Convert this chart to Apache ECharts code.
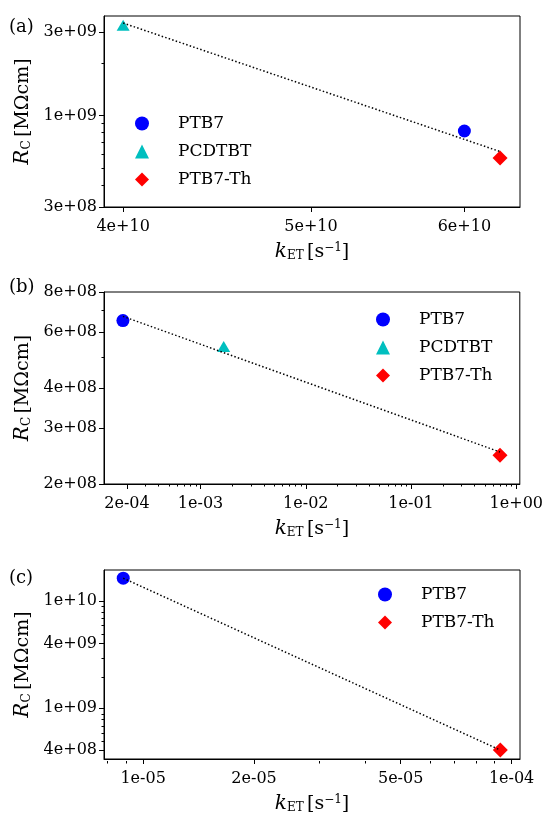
<!DOCTYPE html>
<html>
<head>
<meta charset="utf-8">
<script src="https://cdn.jsdelivr.net/npm/echarts@6/dist/echarts.min.js"></script>
<style>
html, body { margin: 0; padding: 0; background: #fff; }
#main { width: 546px; height: 815px; }
</style>
</head>
<body>
<div id="main"></div>
<script>
var names = ['PTB7', 'PCDTBT', 'PTB7-Th'];

// (a)
var aK = [6.0e10, 4.0e10, 6.26e10];
var aR = [8.17e8, 3.29e9, 5.73e8];
var aFitK = [4.0e10, 6.26e10];
var aFitR = [3.39e9, 6.23e8];
var aXTicks = [4e10, 5e10, 6e10];
var aXLabels = ['4e+10', '5e+10', '6e+10'];
var aYTicks = [3e8, 1e9, 3e9];
var aYLabels = ['3e+08', '1e+09', '3e+09'];
var aXMinor = [];
var aYMinor = [4e8, 5e8, 6e8, 7e8, 8e8, 9e8, 2e9];
var aXRange = [3.91e10, 6.41e10];
var aYRange = [3e8, 3.72e9];

// (b)
var bK = [1.83e-4, 1.66e-3, 0.70];
var bR = [6.51e8, 5.40e8, 2.46e8];
var bFitK = [1.83e-4, 0.70];
var bFitR = [6.71e8, 2.52e8];
var bXTicks = [2e-4, 1e-3, 1e-2, 1e-1, 1];
var bXLabels = ['2e-04', '1e-03', '1e-02', '1e-01', '1e+00'];
var bYTicks = [2e8, 3e8, 4e8, 6e8, 8e8];
var bYLabels = ['2e+08', '3e+08', '4e+08', '6e+08', '8e+08'];
var bXMinor = [3e-4, 4e-4, 5e-4, 6e-4, 7e-4, 8e-4, 9e-4,
  2e-3, 3e-3, 4e-3, 5e-3, 6e-3, 7e-3, 8e-3, 9e-3,
  2e-2, 3e-2, 4e-2, 5e-2, 6e-2, 7e-2, 8e-2, 9e-2,
  2e-1, 3e-1, 4e-1, 5e-1, 6e-1, 7e-1, 8e-1, 9e-1];
var bYMinor = [5e8, 7e8];
var bXRange = [1.21e-4, 1.08];
var bYRange = [2e8, 8e8];

// (c)
var cNames = ['PTB7', 'PTB7-Th'];
var cK = [8.83e-6, 9.32e-5];
var cR = [1.65e10, 4.0e8];
var cFitK = [8.83e-6, 9.32e-5];
var cFitR = [1.65e10, 4.0e8];
var cXTicks = [1e-5, 2e-5, 5e-5, 1e-4];
var cXLabels = ['1e-05', '2e-05', '5e-05', '1e-04'];
var cYTicks = [4e8, 1e9, 4e9, 1e10];
var cYLabels = ['4e+08', '1e+09', '4e+09', '1e+10'];
var cXMinor = [8e-6, 9e-6, 3e-5, 4e-5, 6e-5, 7e-5, 8e-5, 9e-5];
var cYMinor = [5e8, 6e8, 7e8, 8e8, 9e8, 2e9, 3e9, 5e9, 6e9, 7e9, 8e9, 9e9];
var cXRange = [7.83e-6, 1.054e-4];
var cYRange = [3.3e8, 1.97e10];

var colors = {'PTB7': '#0000ff', 'PCDTBT': '#00bfbf', 'PTB7-Th': '#ff0000'};
var symbols = {'PTB7': 'circle', 'PCDTBT': 'triangle', 'PTB7-Th': 'diamond'};
var sizes = {'PTB7': 13, 'PCDTBT': [13, 11], 'PTB7-Th': 15};

var FONT = 'DejaVu Serif';
var lg = Math.log10;

var option = {
  animation: false,
  backgroundColor: '#fff',
  grid: [], xAxis: [], yAxis: [], series: [], legend: [],
  graphic: []
};

var xName = '{i|k}{s|ET} {n|[s}{p|\u22121}{n|]}';
var yName = '{i|R}{s|C} {n|[M\u03a9cm]}';
var nameRich = {
  i: {fontFamily: FONT, fontStyle: 'italic', fontSize: 20, color: '#000'},
  s: {fontFamily: FONT, fontSize: 12, color: '#000', verticalAlign: 'bottom', lineHeight: 13},
  p: {fontFamily: FONT, fontSize: 12, color: '#000', verticalAlign: 'top', lineHeight: 13},
  n: {fontFamily: FONT, fontSize: 19, color: '#000'}
};

var panels = [];

function addPanel(idx, box, ks, rs, nm, fitK, fitR, xt, xl, yt, yl, xm, ym, xr, yr, leg, tag) {
  option.grid[idx] = {left: box[0], top: box[1], width: box[2], height: box[3],
    show: true, borderColor: '#000', borderWidth: 1, backgroundColor: 'transparent'};
  // twin grid on the same box, only for minor ticks
  option.grid[idx + 3] = {left: box[0], top: box[1], width: box[2], height: box[3], show: false};
  var xtl = xt.map(lg), ytl = yt.map(lg);
  var mainX = {
    type: 'value', gridIndex: idx, position: 'bottom', min: lg(xr[0]), max: lg(xr[1]),
    axisLine: {show: true, onZero: false, lineStyle: {color: '#000', width: 1}},
    axisTick: {show: true, length: 5, customValues: xtl, lineStyle: {color: '#000', width: 1}},
    axisLabel: {customValues: xtl, fontFamily: FONT, fontSize: 16, color: '#000', margin: 12,
      formatter: function (v) {
        for (var j = 0; j < xtl.length; j++) if (Math.abs(xtl[j] - v) < 1e-6) return xl[j];
        return '';
      }},
    splitLine: {show: false},
    name: xName, nameLocation: 'middle', nameGap: 35, nameTextStyle: {rich: nameRich}
  };
  var minorX = {
    type: 'value', gridIndex: idx + 3, position: 'bottom', min: lg(xr[0]), max: lg(xr[1]),
    axisLine: {show: false, onZero: false},
    axisTick: {show: xm.length > 0, length: 2.5, customValues: xm.map(lg), lineStyle: {color: '#000', width: 1}},
    axisLabel: {show: false}, splitLine: {show: false}
  };
  var mainY = {
    type: 'value', gridIndex: idx, position: 'left', min: lg(yr[0]), max: lg(yr[1]),
    axisLine: {show: true, onZero: false, lineStyle: {color: '#000', width: 1}},
    axisTick: {show: true, length: 5, customValues: ytl, lineStyle: {color: '#000', width: 1}},
    axisLabel: {customValues: ytl, fontFamily: FONT, fontSize: 16, color: '#000', margin: 7,
      formatter: function (v) {
        for (var j = 0; j < ytl.length; j++) if (Math.abs(ytl[j] - v) < 1e-6) return yl[j];
        return '';
      }},
    splitLine: {show: false},
    name: yName, nameLocation: 'middle', nameGap: 56, nameTextStyle: {rich: nameRich}
  };
  var minorY = {
    type: 'value', gridIndex: idx + 3, position: 'left', min: lg(yr[0]), max: lg(yr[1]),
    axisLine: {show: false, onZero: false},
    axisTick: {show: true, length: 2.5, customValues: ym.map(lg), lineStyle: {color: '#000', width: 1}},
    axisLabel: {show: false}, splitLine: {show: false}
  };
  panels.push({mainX: mainX, minorX: minorX, mainY: mainY, minorY: minorY,
    ks: ks, rs: rs, nm: nm, fitK: fitK, fitR: fitR, leg: leg, tag: tag});
}

addPanel(0, [104, 16, 416, 191], aK, aR, names, aFitK, aFitR,
  aXTicks, aXLabels, aYTicks, aYLabels, aXMinor, aYMinor, aXRange, aYRange,
  [130, 110, 11], ['(a)', 18]);
addPanel(1, [104, 292, 416, 192], bK, bR, names, bFitK, bFitR,
  bXTicks, bXLabels, bYTicks, bYLabels, bXMinor, bYMinor, bXRange, bYRange,
  [371, 306, 11], ['(b)', 278]);
addPanel(2, [104, 570, 416, 191], cK, cR, cNames, cFitK, cFitR,
  cXTicks, cXLabels, cYTicks, cYLabels, cXMinor, cYMinor, cXRange, cYRange,
  [373, 581, 11], ['(c)', 569]);

// main axes first (index = panel), then the minor-tick axes (index = panel + 3)
panels.forEach(function (p) { option.xAxis.push(p.mainX); option.yAxis.push(p.mainY); });
panels.forEach(function (p) { option.xAxis.push(p.minorX); option.yAxis.push(p.minorY); });

panels.forEach(function (p, i) {
  for (var j = 0; j < p.nm.length; j++) {
    option.series.push({
      name: p.nm[j], type: 'scatter', xAxisIndex: i, yAxisIndex: i,
      symbol: symbols[p.nm[j]], symbolSize: sizes[p.nm[j]],
      itemStyle: {color: colors[p.nm[j]], opacity: 1},
      data: [[lg(p.ks[j]), lg(p.rs[j])]], z: 2
    });
  }
  option.series.push({
    type: 'line', xAxisIndex: i, yAxisIndex: i, symbol: 'none', z: 3,
    lineStyle: {color: '#000', width: 1.5, type: [1.5, 2.2], cap: 'butt'},
    data: [[lg(p.fitK[0]), lg(p.fitR[0])], [lg(p.fitK[1]), lg(p.fitR[1])]]
  });
  option.legend.push({
    data: p.nm, left: p.leg[0], top: p.leg[1], orient: 'vertical',
    itemWidth: 14, itemHeight: 14, itemGap: p.leg[2], selectedMode: false,
    textStyle: {fontFamily: FONT, fontSize: 17, color: '#000', padding: [0, 0, 0, 24]}
  });
  option.graphic.push({
    type: 'text', left: 9, top: p.tag[1],
    style: {text: p.tag[0], font: '18px "DejaVu Serif"', fill: '#000'}
  });
});

var chart = echarts.init(document.getElementById('main'));
chart.setOption(option);
</script>
</body>
</html>
